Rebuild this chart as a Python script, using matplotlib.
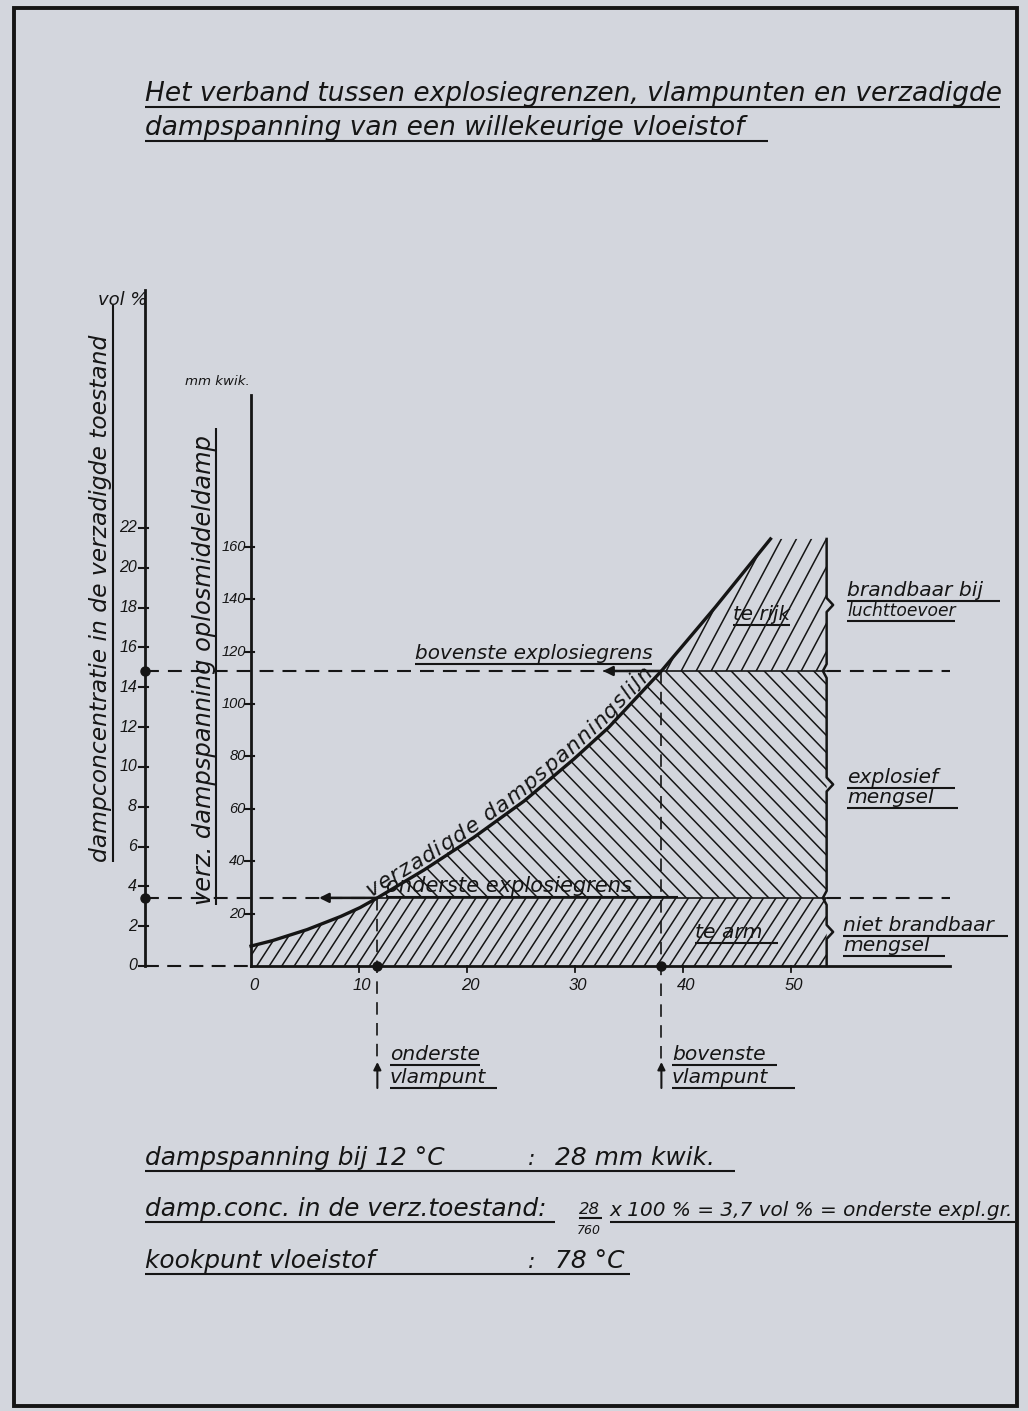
import numpy as np
import matplotlib
matplotlib.use("Agg")
import matplotlib.pyplot as plt
from matplotlib.patches import Polygon, Rectangle
from matplotlib.collections import LineCollection
from matplotlib.font_manager import FontProperties

plt.rcParams["font.family"] = ["DejaVu Sans"]
plt.rcParams["lines.scale_dashes"] = False

temp_c = [0, 2.0, 5.2, 8.3, 10.1, 11.7, 16.0, 20.6, 25.3, 29.9, 33.1, 38.0, 43.0, 48.1]
vapour_mm = [7.6, 9.7, 13.9, 18.9, 22.3, 26.0, 36.6, 49.0, 63.0, 79.0, 91.0, 112.6, 137.0, 163.0]

lower_limit_mm = 26.0    # onderste explosiegrens
upper_limit_mm = 112.6   # bovenste explosiegrens
flash_lower_c = 11.7     # onderste vlampunt
flash_upper_c = 38.0     # bovenste vlampunt
chart_right_c = 53.3
hatch_top_mm = 163.0
mm_per_vol = 7.6         # 760 mm kwik = 100 vol %

temp_ticks = [0, 10, 20, 30, 40, 50]
mm_ticks = [20, 40, 60, 80, 100, 120, 140, 160]
vol_ticks = [0, 2, 4, 6, 8, 10, 12, 14, 16, 18, 20, 22]

INK = "#151515"
PAPER = "#d3d6dd"
TICKFONT = "Liberation Sans"

# --- opzet: een as over de hele figuur, in graden C / mm kwik ---
W, H = 1028, 1411
X0, KX = 251, 10.8
Y0, KY = 966, 2.62

fig = plt.figure(figsize=(W / 100, H / 100), dpi=100)
fig.patch.set_facecolor(PAPER)
ax = fig.add_axes([0, 0, 1, 1])
ax.set_xlim(-X0 / KX, (W - X0) / KX)
ax.set_ylim((Y0 - H) / KY, Y0 / KY)
ax.axis("off")
renderer = fig.canvas.get_renderer()


def d(px, py):
    return (px - X0) / KX, (Y0 - py) / KY


def line_px(x0, y0, x1, y1, lw=1.4, **kw):
    a, b = d(x0, y0), d(x1, y1)
    ax.plot([a[0], b[0]], [a[1], b[1]], color=INK, lw=lw, solid_capstyle="butt", **kw)


def put(s, x0, x1, yb, ul=True, size=14, gap=6, ul_to=None, lo=0.88, hi=1.12):
    x, y = d(x0, yb)
    t = ax.text(x, y, s, fontsize=size, fontstyle="italic", color=INK,
                ha="left", va="baseline")
    w = t.get_window_extent(renderer).width
    f = min(max((x1 - x0) / w, lo), hi)
    t.set_fontsize(size * f)
    end = x0 + w * f
    if ul:
        line_px(x0, yb + gap, max(ul_to if ul_to else x1, end), yb + gap, lw=1.5)
    return t


def vput(s, xb, y0, y1, ul=True, size=14, gap=6, lo=0.88, hi=1.12):
    x, y = d(xb, y0)
    t = ax.text(x, y, s, fontsize=size, fontstyle="italic", color=INK, rotation=90,
                rotation_mode="anchor", ha="left", va="baseline")
    h = t.get_window_extent(renderer).height
    f = min(max((y0 - y1) / h, lo), hi)
    t.set_fontsize(size * f)
    if ul:
        line_px(xb + gap, y0, xb + gap, min(y1, y0 - h * f), lw=1.5)


def hatch(xs, ys, step, angle, lw=1.1):
    verts = np.column_stack([xs, ys])
    poly = Polygon(verts, closed=True, facecolor="none", edgecolor="none")
    ax.add_patch(poly)
    pts = ax.transData.transform(verts)
    (x0, y0), (x1, y1) = pts.min(0), pts.max(0)
    k = np.tan(np.radians(angle))
    span = (y1 - y0) / abs(k)
    inv = ax.transData.inverted()
    segs = []
    for c in np.arange(x0 - span, x1 + span, step):
        xa, xb = x0 - 5, x1 + 5
        segs.append(inv.transform([(xa, y0 + k * (xa - c)), (xb, y0 + k * (xb - c))]))
    lc = LineCollection(segs, colors=INK, linewidths=lw)
    ax.add_collection(lc)
    lc.set_clip_path(poly)


# --- rand ---
fig.patches.append(Rectangle((14 / W, 1 - 1406 / H), (1017 - 14) / W, (1406 - 8) / H,
                             transform=fig.transFigure, fill=False, lw=2.8, ec=INK))

# --- titel ---
put("Het verband tussen explosiegrenzen, vlampunten en verzadigde", 145, 1000, 101, size=17)
put("dampspanning van een willekeurige vloeistof", 145, 768, 135, size=17)

# --- gearceerde gebieden ---
t = np.array(temp_c)
p = np.array(vapour_mm)
m = t <= flash_lower_c
hatch([0] + list(t[m]) + [chart_right_c, chart_right_c],
      [0] + list(p[m]) + [lower_limit_mm, 0], 12.5, 57)
m = (t >= flash_lower_c) & (t <= flash_upper_c)
hatch(list(t[m]) + [chart_right_c, chart_right_c],
      list(p[m]) + [upper_limit_mm, lower_limit_mm], 16.5, -46)
m = t >= flash_upper_c
hatch(list(t[m]) + [chart_right_c, chart_right_c],
      list(p[m]) + [hatch_top_mm, upper_limit_mm], 15, 62)

# --- assen ---
x_vol = d(145, 0)[0]
x_ext = d(950, 0)[0]
ax.plot([x_vol, x_vol], [0, d(0, 290)[1]], color=INK, lw=2.0)
ax.plot([0, 0], [0, d(0, 395)[1]], color=INK, lw=2.0)
ax.plot([0, x_ext], [0, 0], color=INK, lw=2.0)
ax.plot([x_vol, 0], [0, 0], color=INK, lw=1.5, ls=(0, (10, 6)))

for v in vol_ticks:
    y = v * mm_per_vol
    ax.plot([x_vol - 0.6, x_vol + 0.3], [y, y], color=INK, lw=1.5)
    ax.text(x_vol - 0.75, y, str(v), fontsize=11.5, fontstyle="italic", color=INK,
            family=TICKFONT, ha="right", va="center")
for v in mm_ticks:
    ax.plot([-0.6, 0.3], [v, v], color=INK, lw=1.5)
    ax.text(-0.5, v, str(v), fontsize=10.5, fontstyle="italic", color=INK,
            family=TICKFONT, ha="right", va="center")
for v in temp_ticks:
    if v:
        ax.plot([v, v], [0, -2.2], color=INK, lw=1.3)
    ax.text(v + 0.3, -4.5, str(v), fontsize=12, fontstyle="italic", color=INK,
            family=TICKFONT, ha="center", va="top")

put("vol %", 98, 143, 305, ul=False, size=13, lo=1, hi=1)
put("mm kwik.", 185, 248, 385, ul=False, size=11)
vput("dampconcentratie in de verzadigde toestand", 107, 862, 305, size=15)
vput("verz. dampspanning oplosmiddeldamp", 211, 905, 428, size=14.5, gap=5, hi=1.2)

# --- grenslijnen ---
dash = (0, (10, 6.5))
for y, xc in [(lower_limit_mm, flash_lower_c), (upper_limit_mm, flash_upper_c)]:
    ax.plot([x_vol, xc], [y, y], color=INK, lw=1.5, ls=dash)
    ax.plot([xc, chart_right_c], [y, y], color=INK, lw=1.2)
    ax.plot([chart_right_c, x_ext], [y, y], color=INK, lw=1.5, ls=dash)
    ax.plot([x_vol], [y], "o", color=INK, ms=6.5)
    ax.annotate("", xy=(xc - 5.4, y), xytext=(xc, y),
                arrowprops=dict(arrowstyle="-|>", color=INK, lw=1.8, mutation_scale=14,
                                shrinkA=0, shrinkB=0))

y_arrow_top = d(0, 1062)[1]
y_arrow_bot = d(0, 1088)[1]
for xc, y in [(flash_lower_c, lower_limit_mm), (flash_upper_c, upper_limit_mm)]:
    ax.plot([xc, xc], [y, y_arrow_top], color=INK, lw=1.2, ls=(0, (9, 6)))
    ax.plot([xc], [0], "o", color=INK, ms=6.5)
    ax.annotate("", xy=(xc, y_arrow_top), xytext=(xc, y_arrow_bot),
                arrowprops=dict(arrowstyle="-|>", color=INK, lw=1.5, mutation_scale=11,
                                shrinkA=0, shrinkB=0))

# --- rechterrand met accolades ---
bounds = [hatch_top_mm, upper_limit_mm, lower_limit_mm, 0]
bx, by = [], []
nx, ny = 0.35, 7 / KY
for i in range(3):
    top, bot = bounds[i], bounds[i + 1]
    mid = (top + bot) / 2
    bx += [chart_right_c - (nx if i > 0 else 0), chart_right_c, chart_right_c,
           chart_right_c + 0.6, chart_right_c, chart_right_c,
           chart_right_c - (nx if i < 2 else 0)]
    by += [top, top - (ny if i > 0 else 0), mid + ny, mid, mid - ny,
           bot + (ny if i < 2 else 0), bot]
ax.plot(bx, by, color=INK, lw=1.8)

# --- dampspanningslijn ---
ax.plot(temp_c, vapour_mm, color=INK, lw=2.4, solid_joinstyle="round")

# tekst langs de kromme
label = "verzadigde dampspanningslijn"
pts = ax.transData.transform(np.column_stack([temp_c, vapour_mm]))
arc = np.concatenate([[0], np.cumsum(np.hypot(*np.diff(pts, axis=0).T))])
s0 = np.interp(372, pts[:, 0], arc)
s1 = np.interp(656, pts[:, 0], arc)
fp = FontProperties(family="DejaVu Sans", style="italic", size=15.5)
wid = [renderer.get_text_width_height_descent(c, fp, ismath=False)[0] for c in label]
extra = (s1 - s0 - sum(wid)) / (len(label) - 1)
inv = ax.transData.inverted()
pos = s0
for c, w in zip(label, wid):
    sc = pos + w / 2
    xa, ya = np.interp(sc - 14, arc, pts[:, 0]), np.interp(sc - 14, arc, pts[:, 1])
    xb, yb = np.interp(sc + 14, arc, pts[:, 0]), np.interp(sc + 14, arc, pts[:, 1])
    ang = np.arctan2(yb - ya, xb - xa)
    xm, ym = np.interp(sc, arc, pts[:, 0]), np.interp(sc, arc, pts[:, 1])
    xm, ym = xm - 4 * np.sin(ang), ym + 4 * np.cos(ang)
    xd, yd = inv.transform((xm, ym))
    ax.text(xd, yd, c, fontproperties=fp, color=INK, rotation=np.degrees(ang),
            rotation_mode="anchor", ha="center", va="baseline")
    pos += w + extra

# --- teksten in de grafiek ---
put("bovenste explosiegrens", 415, 652, 659, size=13, gap=5)
put("onderste explosiegrens", 386, 678, 892, size=13.5, gap=5)
put("te rijk", 733, 790, 620, size=13, gap=5)
put("te arm", 695, 778, 938, size=13, gap=5)

put("brandbaar bij", 847, 1000, 596, size=13, gap=5)
put("luchttoevoer", 847, 955, 616, size=13, gap=5)
put("explosief", 847, 955, 783, size=13, gap=5)
put("mengsel", 847, 958, 803, size=13, gap=5)
put("niet brandbaar", 843, 1008, 931, size=13, gap=5)
put("mengsel", 843, 945, 951, size=13, gap=5)

put("onderste", 390, 480, 1060, size=13, gap=5)
put("vlampunt", 390, 497, 1083, size=13, gap=5)
put("bovenste", 672, 777, 1060, size=13, gap=5)
put("vlampunt", 672, 795, 1083, size=13, gap=5)

# --- onderschrift ---
put("dampspanning bij 12 °C", 145, 452, 1165, size=16, ul_to=735)
put(":", 528, 533, 1165, ul=False, size=16, lo=1, hi=1)
put("28 mm kwik.", 555, 735, 1165, ul=False, size=16)

put("damp.conc. in de verz.toestand:", 145, 555, 1216, size=16)
put("28", 579, 600, 1214, size=11, gap=4, ul_to=602)
put("760", 577, 601, 1234, ul=False, size=9)
put("x 100 % = 3,7 vol % = onderste expl.gr.", 610, 1013, 1216, size=15.5, lo=0.85,
    ul_to=1015)

put("kookpunt vloeistof", 145, 380, 1268, size=16, ul_to=630)
put(":", 528, 533, 1268, ul=False, size=16, lo=1, hi=1)
put("78 °C", 555, 628, 1268, ul=False, size=16)

fig.savefig("out.png", dpi=100, facecolor=PAPER)
